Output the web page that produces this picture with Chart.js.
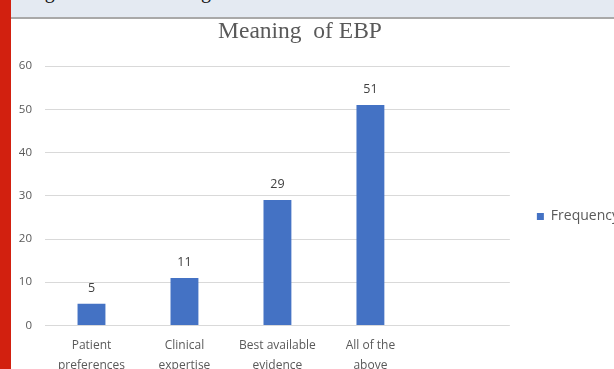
<!DOCTYPE html>
<html>
<head>
<meta charset="utf-8">
<script src="https://cdn.jsdelivr.net/npm/chart.js@4.4.0/dist/chart.umd.min.js"></script>
<style>
  html, body { margin:0; padding:0; width:614px; height:369px; overflow:hidden; background:#fff; }
  #band { position:absolute; left:0; top:0; width:614px; height:17px; background:#E4EAF2; border-bottom:2px solid #A9A9A9; z-index:2; overflow:hidden; }
  #band span { position:absolute; top:-20px; font-family:"Liberation Serif", serif; font-size:20px; line-height:23px; color:#111; white-space:nowrap; }
  #red { position:absolute; left:0; top:0; width:11px; height:369px; background:#D2200F; z-index:3; }
  #wrap { position:absolute; left:-29px; top:0; width:658px; height:430px; }
</style>
</head>
<body>
<div id="band"><span style="left:28px">Fig</span><span style="left:140px">Meaning</span></div>
<div id="red"></div>
<div id="wrap"><canvas id="c"></canvas></div>
<script>
const categories = [["Patient","preferences"],["Clinical","expertise"],["Best available","evidence"],["All of the","above"],""];
const frequency = [5, 11, 29, 51, null];
const yTicks = [0, 10, 20, 30, 40, 50, 60];
const seriesName = "Frequency";
const chartTitle = "Meaning  of EBP";

const valueLabels = {
  id: 'valueLabels',
  afterDatasetsDraw(chart) {
    const ctx = chart.ctx;
    ctx.save();
    ctx.font = '12.5px "Open Sans"';
    ctx.fillStyle = '#404040';
    ctx.textAlign = 'center';
    ctx.textBaseline = 'bottom';
    chart.getDatasetMeta(0).data.forEach((el, i) => {
      const v = chart.data.datasets[0].data[i];
      if (v == null) return;
      ctx.fillText(String(v), el.x, el.y - 9);
    });
    ctx.restore();
  }
};

new Chart(document.getElementById('c'), {
  type: 'bar',
  data: {
    labels: categories,
    datasets: [{
      label: seriesName,
      data: frequency,
      backgroundColor: '#4472C4',
      borderWidth: 0,
      barPercentage: 0.3,
      categoryPercentage: 1.0
    }]
  },
  options: {
    responsive: true,
    maintainAspectRatio: false,
    animation: false,
    layout: { padding: { left: 0, right: 0, top: 0, bottom: 45 } },
    plugins: {
      title: {
        display: true,
        text: chartTitle,
        color: '#595959',
        font: { family: '"Liberation Serif", serif', size: 23.5, weight: 'normal' },
        padding: { top: 18, bottom: 20 }
      },
      legend: {
        position: 'right',
        align: 'center',
        title: { display: true, text: ' ', font: { size: 20, lineHeight: 1.2 }, padding: { top: 12, bottom: 12 } },
        labels: {
          boxWidth: 7, boxHeight: 7,
          color: '#595959',
          font: { family: '"Open Sans"', size: 14 },
          padding: 27
        }
      },
      tooltip: { enabled: false }
    },
    scales: {
      y: {
        min: 0, max: 60,
        afterBuildTicks: (s) => { s.ticks = yTicks.map(v => ({ value: v })); },
        afterFit: (s) => { s.width = 74; },
        grid: { color: '#D9D9D9', drawTicks: false, lineWidth: 1 },
        border: { display: false },
        ticks: { color: '#595959', font: { family: '"Open Sans"', size: 11.5 }, padding: 13 }
      },
      x: {
        grid: { display: false, drawTicks: false },
        border: { display: false },
        ticks: { color: '#595959', font: { family: '"Open Sans"', size: 12, lineHeight: 1.65 }, padding: 10, maxRotation: 0, autoSkip: false }
      }
    }
  },
  plugins: [valueLabels]
});
</script>
</body>
</html>
